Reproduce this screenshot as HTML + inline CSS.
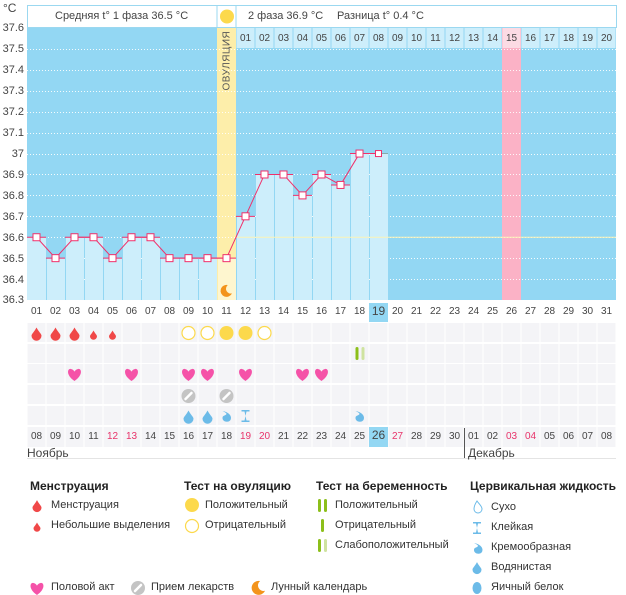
<!DOCTYPE html>
<html><head><meta charset="utf-8"><style>
body{margin:0;width:626px;height:595px;background:#fff;position:relative;overflow:hidden;font-family:"Liberation Sans","DejaVu Sans",sans-serif;font-size:11px;color:#444}
.abs{position:absolute}
.row{position:absolute;left:27px;display:flex}
.row span{width:19px;text-align:center;display:block}
.r{color:#e8336a}
.yl{position:absolute;left:0;width:24px;text-align:right;font-size:11px;color:#444}
.h{font-weight:bold;font-size:12px;color:#222}
.lg{position:absolute;font-size:11px;color:#333}
</style></head><body>
<svg id="s" class="abs" style="left:0;top:0" width="626" height="595"></svg>

<div class="abs" style="left:3px;top:1px;font-size:12px">°C</div>
<div class="yl" style="top:22px">37.6</div>
<div class="yl" style="top:43px">37.5</div>
<div class="yl" style="top:64px">37.4</div>
<div class="yl" style="top:85px">37.3</div>
<div class="yl" style="top:106px">37.2</div>
<div class="yl" style="top:127px">37.1</div>
<div class="yl" style="top:148px">37</div>
<div class="yl" style="top:169px">36.9</div>
<div class="yl" style="top:190px">36.8</div>
<div class="yl" style="top:211px">36.7</div>
<div class="yl" style="top:232px">36.6</div>
<div class="yl" style="top:253px">36.5</div>
<div class="yl" style="top:274px">36.4</div>
<div class="yl" style="top:294px">36.3</div>

<div class="abs" style="left:55px;top:10px">Средняя t° 1 фаза 36.5 °C</div>
<div class="abs" style="left:248px;top:10px">2 фаза 36.9 °C</div>
<div class="abs" style="left:337px;top:10px">Разница t° 0.4 °C</div>
<div class="abs" style="left:220px;top:60px;transform:rotate(-90deg);transform-origin:center;width:50px;margin-left:-18px;font-size:10px;color:#555;letter-spacing:0.5px">ОВУЛЯЦИЯ</div>

<div class="row" style="top:33px;left:236px;font-size:10px"><span>01</span><span>02</span><span>03</span><span>04</span><span>05</span><span>06</span><span>07</span><span>08</span><span>09</span><span>10</span><span>11</span><span>12</span><span>13</span><span>14</span><span>15</span><span>16</span><span>17</span><span>18</span><span>19</span><span>20</span></div>

<div class="row" style="top:306px;font-size:10px"><span>01</span><span>02</span><span>03</span><span>04</span><span>05</span><span>06</span><span>07</span><span>08</span><span>09</span><span>10</span><span>11</span><span>12</span><span>13</span><span>14</span><span>15</span><span>16</span><span>17</span><span>18</span><span style="font-size:12px;margin-top:-2px">19</span><span>20</span><span>21</span><span>22</span><span>23</span><span>24</span><span>25</span><span>26</span><span>27</span><span>28</span><span>29</span><span>30</span><span>31</span></div>

<div class="row" style="top:431px;font-size:10px"><span>08</span><span>09</span><span>10</span><span>11</span><span class="r">12</span><span class="r">13</span><span>14</span><span>15</span><span>16</span><span>17</span><span>18</span><span class="r">19</span><span class="r">20</span><span>21</span><span>22</span><span>23</span><span>24</span><span>25</span><span style="font-size:12px;margin-top:-3px">26</span><span class="r">27</span><span>28</span><span>29</span><span>30</span><span>01</span><span>02</span><span class="r">03</span><span class="r">04</span><span>05</span><span>06</span><span>07</span><span>08</span></div>
<div class="abs" style="left:27px;top:446px;font-size:12px">Ноябрь</div>
<div class="abs" style="left:468px;top:446px;font-size:12px">Декабрь</div>

<div class="abs h" style="left:30px;top:479px">Менструация</div>
<div class="abs h" style="left:184px;top:479px">Тест на овуляцию</div>
<div class="abs h" style="left:316px;top:479px">Тест на беременность</div>
<div class="abs h" style="left:470px;top:479px">Цервикальная жидкость</div>
<div class="lg" style="left:51px;top:499px">Менструация</div>
<div class="lg" style="left:51px;top:519px">Небольшие выделения</div>
<div class="lg" style="left:205px;top:499px">Положительный</div>
<div class="lg" style="left:205px;top:519px">Отрицательный</div>
<div class="lg" style="left:335px;top:499px">Положительный</div>
<div class="lg" style="left:335px;top:519px">Отрицательный</div>
<div class="lg" style="left:335px;top:539px">Слабоположительный</div>
<div class="lg" style="left:491px;top:501px">Сухо</div>
<div class="lg" style="left:491px;top:521px">Клейкая</div>
<div class="lg" style="left:491px;top:541px">Кремообразная</div>
<div class="lg" style="left:491px;top:561px">Водянистая</div>
<div class="lg" style="left:491px;top:581px">Яичный белок</div>
<div class="lg" style="left:51px;top:581px">Половой акт</div>
<div class="lg" style="left:151px;top:581px">Прием лекарств</div>
<div class="lg" style="left:271px;top:581px">Лунный календарь</div>

<script>
const s=document.getElementById('s');let h='';
const X=i=>27+(i-1)*19, C=i=>36.5+(i-1)*19, Y=t=>300-(t-36.3)*209.2;
const R=(x,y,w,hh,f,e='')=>h+=`<rect x="${x}" y="${y}" width="${w}" height="${hh}" fill="${f}" ${e}/>`;
// header
R(27.5,5.5,589,22,'#fff','stroke="#9bd8f0"');
h+='<line x1="217" y1="5" x2="217" y2="28" stroke="#9bd8f0"/><line x1="236" y1="5" x2="236" y2="28" stroke="#9bd8f0"/>';
h+='<circle cx="227" cy="16.5" r="7" fill="#fcd94c"/>';
// chart bg
R(27,28,589,272,'#93d7f3');
R(X(26),28,19,272,'#fbb2c6');
R(X(11),28,19,272,'#fdeeaa');
for(let i=12;i<=31;i++)R(X(i)+0.5,28,18,20,i==26?'#fcdbe4':'#cdeefb');
// grid
for(let k=1;k<13;k++){const y=Math.round(Y(36.3+k*0.1))+0.5;h+=`<line x1="27" y1="${y}" x2="616" y2="${y}" stroke="#fff" stroke-width="1" stroke-dasharray="1,2" opacity="0.9"/>`}
const T=[36.6,36.5,36.6,36.6,36.5,36.6,36.6,36.5,36.5,36.5,36.5,36.7,36.9,36.9,36.8,36.9,36.85,37.0,37.0];
T.forEach((t,k)=>{const i=k+1,y=Y(t);R(X(i)+(i>1?1:0),y,i>1?18:19,300-y,i==11?'#fef6cf':'#cdeefb');});
h+=`<line x1="236" y1="${Y(36.6)}" x2="616" y2="${Y(36.6)}" stroke="#fbf3b8" stroke-width="1"/>`;
let p='';T.forEach((t,k)=>{const i=k+1;h+=`<line x1="${X(i)}" y1="${Y(t)}" x2="${X(i)+19}" y2="${Y(t)}" stroke="${i==19?'#8aa':'#f0306a'}" stroke-width="1"/>`;p+=`${C(i)},${Y(t)} `});
h+=`<polyline points="${p}" fill="none" stroke="#f0306a" stroke-width="1"/>`;
T.forEach((t,k)=>{const i=k+1;const r=i==19?3:3.5;h+=`<rect x="${C(i)-r}" y="${Y(t)-r}" width="${2*r}" height="${2*r}" fill="#fff" stroke="#f0306a" stroke-width="1"/>`});
// moon
const moon=(x,y,r)=>h+=`<path d="M${x+r*0.3},${y-r} A${r},${r} 0 1 0 ${x+r},${y+r*0.4} A${r*0.8},${r*0.8} 0 0 1 ${x+r*0.3},${y-r}Z" fill="#f3941c"/>`;
moon(226,291,6);
// x-axis highlight
R(X(19),303,19,19,'#93d7f3');R(X(19),427,19,20,'#93d7f3');
// icon rows
const rows=[323,344,364,385,406];
rows.forEach(y=>{for(let i=1;i<=31;i++)R(X(i)+0.5,y,18,19,'#f4f4f7')});
for(let i=1;i<=31;i++)if(i!=19)R(X(i)+0.5,427,18,20,'#f4f4f7');
h+='<line x1="27" y1="458.5" x2="616" y2="458.5" stroke="#e4e4e4"/><line x1="464.5" y1="428" x2="464.5" y2="458" stroke="#555"/>';
const drop=(x,y,sz,c)=>h+=`<path d="M${x},${y-sz*1.3} C${x+sz*0.4},${y-sz*0.5} ${x+sz},${y} ${x+sz},${y+sz*0.35} A${sz},${sz} 0 0 1 ${x-sz},${y+sz*0.35} C${x-sz},${y} ${x-sz*0.4},${y-sz*0.5} ${x},${y-sz*1.3}Z" fill="${c}"/>`;
const heart=(x,y,c)=>h+=`<path d="M${x},${y+6} C${x-9},${y} ${x-7},${y-7} ${x-3.5},${y-6} C${x-1.5},${y-5.5} ${x},${y-4} ${x},${y-3} C${x},${y-4} ${x+1.5},${y-5.5} ${x+3.5},${y-6} C${x+7},${y-7} ${x+9},${y} ${x},${y+6}Z" fill="${c}"/>`;
const pill=(x,y)=>h+=`<circle cx="${x}" cy="${y}" r="7" fill="#c4c4c4"/><line x1="${x-3}" y1="${y+3}" x2="${x+3}" y2="${y-3}" stroke="#fff" stroke-width="2.5" stroke-linecap="round"/>`;
const creamy=(x,y,c)=>h+=`<path d="M${x-4},${y-5} C${x+2},${y-4} ${x+6},${y} ${x+4},${y+4} C${x+2},${y+7} ${x-4},${y+6} ${x-4},${y+2} C${x-4},${y-1} ${x-1},${y} ${x},${y-2} C${x},${y-3} ${x-2},${y-4} ${x-4},${y-5}Z" fill="${c}"/>`;
const sticky=(x,y,c)=>h+=`<path d="M${x-4},${y-6} H${x+4} V${y-4.5} H${x+1} L${x},${y} L${x+1},${y+4.5} H${x+4} V${y+6} H${x-4} V${y+4.5} H${x-1} L${x},${y} L${x-1},${y-4.5} H${x-4}Z" fill="${c}"/>`;
[1,2,3].forEach(i=>drop(C(i),334,5,'#f04848'));[4,5].forEach(i=>drop(C(i),335,3.5,'#f04848'));
[9,10,13].forEach(i=>h+=`<circle cx="${C(i)}" cy="333" r="6.5" fill="#fff" stroke="#fcd94c" stroke-width="1.2"/>`);
[11,12].forEach(i=>h+=`<circle cx="${C(i)}" cy="333" r="7" fill="#fcd94c"/>`);
R(C(18)-4,347,3,13,'#8cbf1a','rx="1.5"');R(C(18)+2,347,3,13,'#cfe3a0','rx="1.5"');
[3,6,9,10,12,15,16].forEach(i=>heart(C(i),375,'#f552a8'));
[9,11].forEach(i=>pill(C(i),396));
const fc='#6cbbe8';
[9,10].forEach(i=>drop(C(i),417,5,fc));creamy(C(11),416,fc);sticky(C(12),416,fc);creamy(C(18),416,fc);
// legend icons
drop(37,506,4.5,'#f04848');drop(37,527,3.5,'#f04848');
h+='<circle cx="192" cy="505" r="7" fill="#fcd94c"/><circle cx="192" cy="526" r="6.5" fill="#fff" stroke="#fcd94c" stroke-width="1.2"/>';
R(318,499,3,13,'#8cbf1a','rx="1.5"');R(324,499,3,13,'#8cbf1a','rx="1.5"');
R(321,519,3,13,'#8cbf1a','rx="1.5"');
R(318,539,3,13,'#8cbf1a','rx="1.5"');R(324,539,3,13,'#cfe3a0','rx="1.5"');
h+=`<path d="M477,501 C479,504 482,506 482,509 A4,4 0 0 1 474,509 C474,506 475,504 477,501Z" fill="none" stroke="${fc}" stroke-width="1"/>`;
sticky(477,528,fc);creamy(478,548,fc);drop(477,568,4.5,fc);h+=`<ellipse cx="477" cy="588" rx="4.5" ry="6" fill="${fc}"/>`;
heart(37,589,'#f552a8');pill(138,588);moon(258,588,7);
s.innerHTML=h;
</script>
</body></html>
